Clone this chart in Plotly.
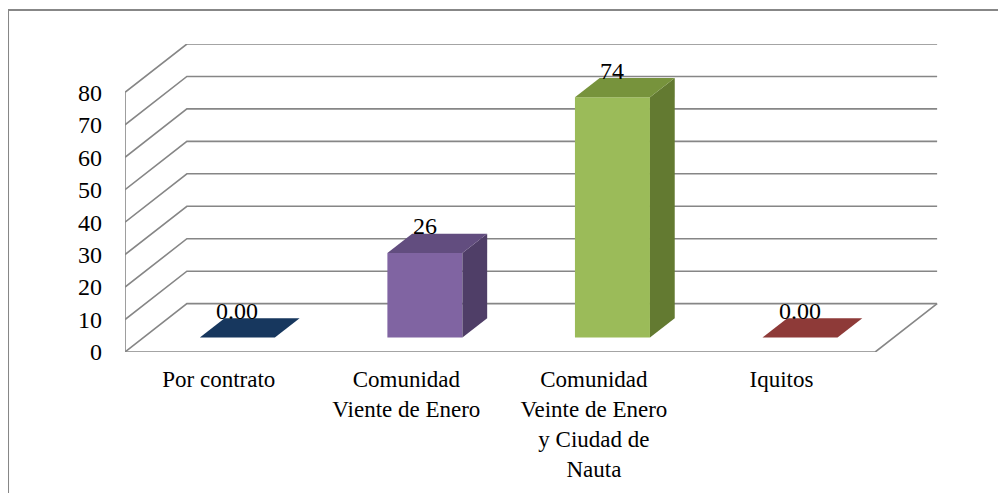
import plotly.graph_objects as go

# ---- data ----
categories = ["Por contrato",
              "Comunidad<br>Viente de Enero",
              "Comunidad<br>Veinte de Enero<br>y Ciudad de<br>Nauta",
              "Iquitos"]
values = [0, 26, 74, 0]
value_labels = ["0.00", "26", "74", "0.00"]
y_ticks = [0, 10, 20, 30, 40, 50, 60, 70, 80]

front_colors = ["#17375E", "#8064A2", "#9BBB59", "#953735"]
top_colors = ["#17375E", "#624D7F", "#77933C", "#8E3A38"]
side_colors = ["#17375E", "#4F3E67", "#637A31", "#8E3A38"]

# ---- 3D geometry (in axis units) ----
DX = 0.33      # depth shift along x (category units)
DY = 14.9      # depth shift along y (value units)
BAR_W = 0.4
F0, F1 = 0.3, 0.7   # bar front/back depth fraction
n = len(categories)
y_max = max(y_ticks)
GRID = "#868686"
FONT = "Liberation Serif, serif"

fig = go.Figure()

# walls and floor outline
gx, gy = [], []
for t in y_ticks:
    gx += [0, DX, n + DX, None]
    gy += [t, t + DY, t + DY, None]
gx += [0, 0, None, 0, n, n + DX, None]
gy += [0, y_max, None, 0, 0, DY, None]
fig.add_trace(go.Scatter(x=gx, y=gy, mode="lines",
                         line=dict(color=GRID, width=1.6),
                         hoverinfo="skip", showlegend=False))

# bars
for i, v in enumerate(values):
    c = i + 0.5
    x0 = c - BAR_W / 2 + F0 * DX
    x1 = c + BAR_W / 2 + F0 * DX
    y0 = F0 * DY
    ddx = (F1 - F0) * DX
    ddy = (F1 - F0) * DY
    if v > 0:
        fig.add_trace(go.Scatter(x=[x0, x1, x1, x0, x0], y=[y0, y0, y0 + v, y0 + v, y0],
                                 fill="toself", fillcolor=front_colors[i], mode="lines",
                                 line=dict(width=0, color=front_colors[i]),
                                 hoverinfo="skip", showlegend=False))
        fig.add_trace(go.Scatter(x=[x1, x1 + ddx, x1 + ddx, x1, x1],
                                 y=[y0, y0 + ddy, y0 + v + ddy, y0 + v, y0],
                                 fill="toself", fillcolor=side_colors[i], mode="lines",
                                 line=dict(width=0, color=side_colors[i]),
                                 hoverinfo="skip", showlegend=False))
    fig.add_trace(go.Scatter(x=[x0, x1, x1 + ddx, x0 + ddx, x0],
                             y=[y0 + v, y0 + v, y0 + v + ddy, y0 + v + ddy, y0 + v],
                             fill="toself", fillcolor=top_colors[i], mode="lines",
                             line=dict(width=0, color=top_colors[i]),
                             hoverinfo="skip", showlegend=False))
    fig.add_annotation(x=c + F0 * DX, y=v + F1 * DY + 2.3, text=value_labels[i],
                       showarrow=False, xanchor="center", yanchor="middle",
                       font=dict(family=FONT, size=24, color="black"))

# outer chart border
fig.add_shape(type="rect", xref="paper", yref="paper",
              x0=-0.1437, x1=1.09, y0=-0.6, y1=1.110,
              line=dict(color="#878787", width=2), fillcolor="rgba(0,0,0,0)", layer="below")

fig.update_layout(
    width=1006, height=493,
    margin=dict(l=117, r=75, t=36, b=149),
    paper_bgcolor="white", plot_bgcolor="white",
    font=dict(family=FONT, size=23, color="black"),
    xaxis=dict(range=[0, n + DX + 0.01], tickvals=[i + 0.5 for i in range(n)],
               ticktext=categories, showgrid=False, zeroline=False, showline=False,
               ticks="", tickfont=dict(family=FONT, size=23), ticklabelstandoff=11,
               automargin=False, fixedrange=True),
    yaxis=dict(range=[0, y_max + DY], tickvals=y_ticks, showgrid=False, zeroline=False,
               showline=False, ticks="", tickfont=dict(family=FONT, size=24),
               ticklabelstandoff=22, automargin=False, fixedrange=True),
    showlegend=False,
)

fig.write_html("out.html")
